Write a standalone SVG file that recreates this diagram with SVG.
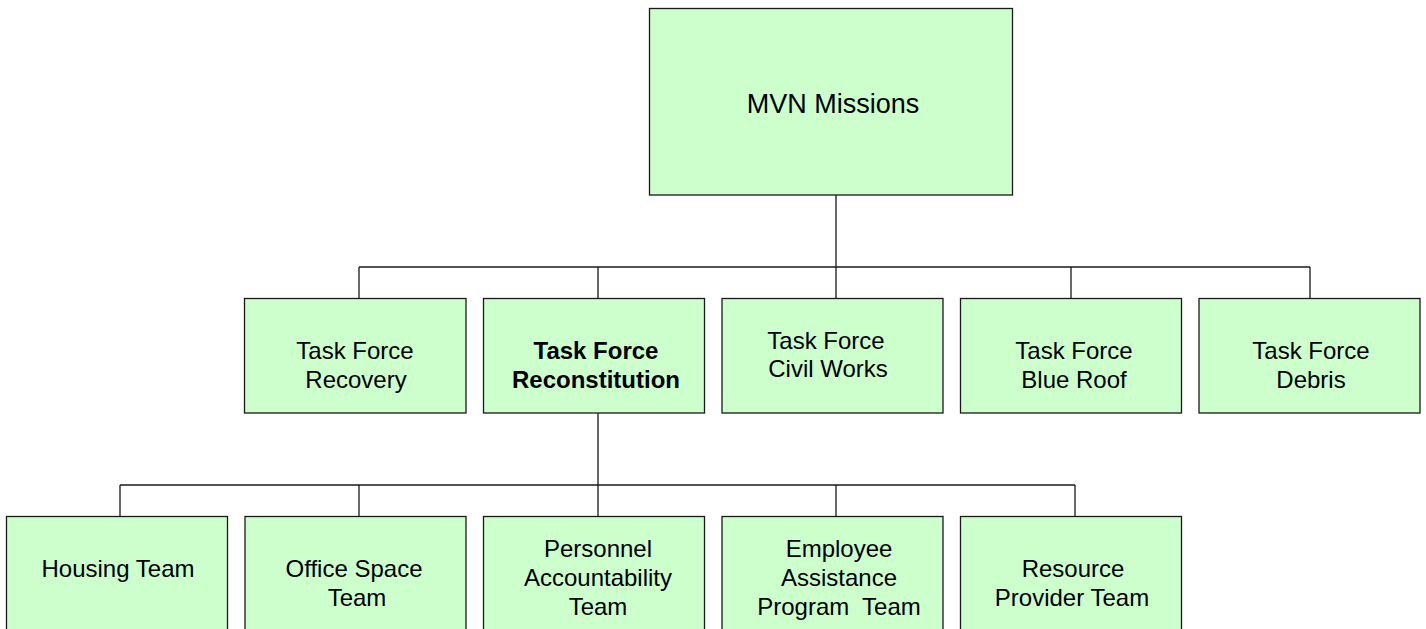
<svg xmlns="http://www.w3.org/2000/svg" width="1426" height="629" viewBox="0 0 1426 629">
<style>
.box{fill:#CCFFCC;stroke:#1a1a1a;stroke-width:1.3}
.t{font-family:"Liberation Sans",Arial,sans-serif;font-size:24px;fill:#000;text-anchor:middle}
.b{font-weight:bold}
.big{font-size:27px}
.c{fill:none;stroke:#1a1a1a;stroke-width:1.3}
</style>
<rect width="1426" height="629" fill="#fff"/>
<g id="connectors">
<path class="c" d="M836 195V298M359 267H1310M359 267V298M598 267V298M1071 267V298M1310 267V298"/>
<path class="c" d="M598 413V516M120 485H1075M120 485V516M359 485V516M836 485V516M1075 485V516"/>
</g>
<g id="mvn">
<rect class="box" x="649.5" y="8.5" width="363" height="186.5"/>
<text class="t big" x="833" y="113">MVN Missions</text>
</g>
<g id="tf-recovery">
<rect class="box" x="244.5" y="298.5" width="221.5" height="114.5"/>
<text class="t" x="355" y="359">Task Force</text>
<text class="t" x="356" y="388">Recovery</text>
</g>
<g id="tf-reconstitution">
<rect class="box" x="483.5" y="298.5" width="221" height="114.5"/>
<text class="t b" x="596" y="359">Task Force</text>
<text class="t b" x="596" y="388">Reconstitution</text>
</g>
<g id="tf-civil">
<rect class="box" x="722" y="298.5" width="221" height="114.5"/>
<text class="t" x="826" y="349">Task Force</text>
<text class="t" x="828" y="377">Civil Works</text>
</g>
<g id="tf-blueroof">
<rect class="box" x="960.5" y="298.5" width="221" height="114.5"/>
<text class="t" x="1074" y="359">Task Force</text>
<text class="t" x="1074" y="388">Blue Roof</text>
</g>
<g id="tf-debris">
<rect class="box" x="1199" y="298.5" width="221" height="114.5"/>
<text class="t" x="1311" y="359">Task Force</text>
<text class="t" x="1311" y="388">Debris</text>
</g>
<g id="housing">
<rect class="box" x="6.5" y="516.5" width="221" height="130"/>
<text class="t" x="118" y="577">Housing Team</text>
</g>
<g id="office">
<rect class="box" x="245" y="516.5" width="221" height="130"/>
<text class="t" x="354" y="577">Office Space</text>
<text class="t" x="357" y="606">Team</text>
</g>
<g id="personnel">
<rect class="box" x="483.5" y="516.5" width="221" height="130"/>
<text class="t" x="598" y="557">Personnel</text>
<text class="t" x="598" y="586">Accountability</text>
<text class="t" x="598" y="615">Team</text>
</g>
<g id="employee">
<rect class="box" x="722" y="516.5" width="221" height="130"/>
<text class="t" x="839" y="557">Employee</text>
<text class="t" x="839" y="586">Assistance</text>
<text class="t" x="839" y="615" xml:space="preserve">Program  Team</text>
</g>
<g id="resource">
<rect class="box" x="960.5" y="516.5" width="221" height="130"/>
<text class="t" x="1073" y="577">Resource</text>
<text class="t" x="1072" y="606">Provider Team</text>
</g>
</svg>
